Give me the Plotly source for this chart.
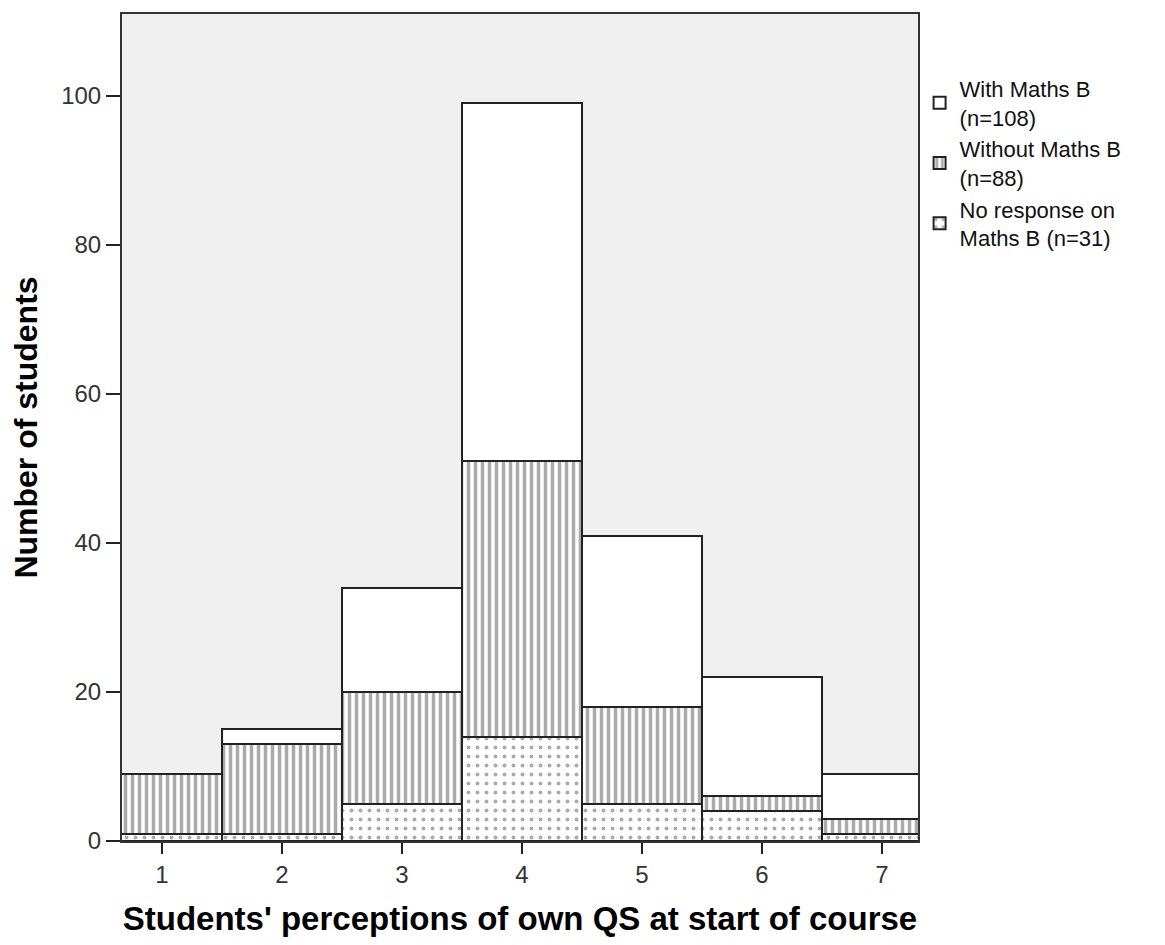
import plotly.graph_objects as go

categories = [1, 2, 3, 4, 5, 6, 7]
with_maths_b = [0, 2, 14, 48, 23, 16, 6]
without_maths_b = [8, 12, 15, 37, 13, 2, 2]
no_response = [1, 1, 5, 14, 5, 4, 1]

names = {
    "with": "With Maths B<br>(n=108)",
    "without": "Without Maths B<br>(n=88)",
    "nores": "No response on<br>Maths B (n=31)",
}

fig = go.Figure()
line = dict(color="#222222", width=2)
fig.add_trace(go.Bar(
    x=categories, y=no_response, name=names["nores"], width=1,
    marker=dict(color="white", line=line,
                pattern=dict(shape=".", fgcolor="#555555", bgcolor="white", size=9, solidity=0.15)),
))
fig.add_trace(go.Bar(
    x=categories, y=without_maths_b, name=names["without"], width=1,
    marker=dict(color="white", line=line,
                pattern=dict(shape="|", fgcolor="#555555", bgcolor="white", size=7, solidity=0.5)),
))
fig.add_trace(go.Bar(
    x=categories, y=with_maths_b, name=names["with"], width=1,
    marker=dict(color="white", line=line),
))

font = "Liberation Sans, Arial, sans-serif"
fig.update_layout(
    barmode="stack",
    bargap=0,
    width=1157, height=929,
    margin=dict(l=114, r=247, t=4, b=95),
    paper_bgcolor="white",
    plot_bgcolor="#f0f0f0",
    font=dict(family=font, size=24, color="#222222"),
    showlegend=True,
    legend=dict(
        x=1.002, y=0.935, xanchor="left", yanchor="top",
        traceorder="reversed", font=dict(size=22, family=font, color="#111111"),
        bgcolor="rgba(0,0,0,0)", tracegroupgap=4, itemwidth=30,
    ),
    xaxis=dict(
        range=[0.667, 7.3], tickmode="array", tickvals=categories,
        ticks="outside", ticklen=11, tickwidth=2, tickcolor="#222222",
        showline=True, linecolor="#333333", linewidth=2, mirror=True,
        showgrid=False, zeroline=False,
        tickfont=dict(size=24, color="#333333"),
        title=dict(text="<b>Students' perceptions of own QS at start of course</b>",
                   font=dict(size=33, color="black"), standoff=22),
    ),
    yaxis=dict(
        range=[0, 111], dtick=20,
        ticks="outside", ticklen=14, tickwidth=2, tickcolor="#222222",
        showline=True, linecolor="#333333", linewidth=2, mirror=True,
        showgrid=False, zeroline=False,
        tickfont=dict(size=24, color="#333333"),
        title=dict(text="<b>Number of students</b>",
                   font=dict(size=32, color="black"), standoff=25),
    ),
)

fig.write_html("out.html")
